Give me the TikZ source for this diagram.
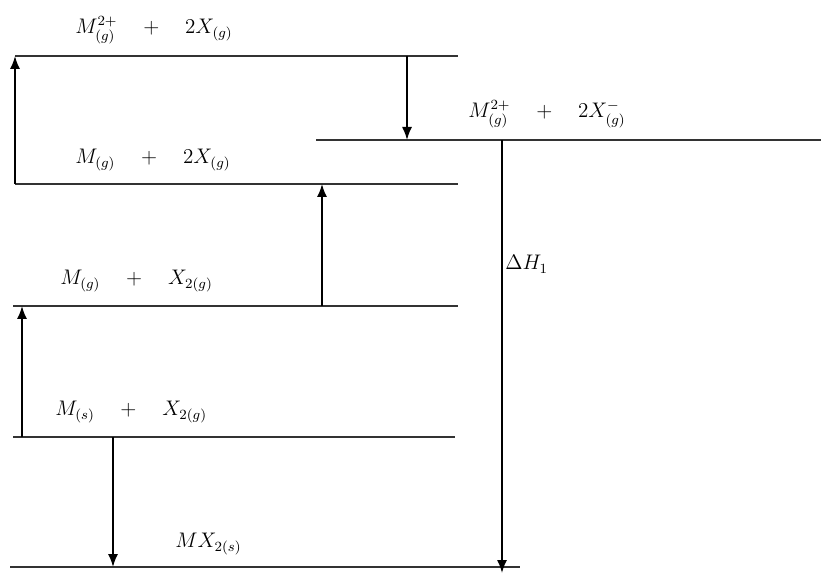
\documentclass[tikz,border=0pt]{standalone}
\usepackage{tikz}
\usetikzlibrary{arrows.meta, calc}
\usepackage{amsmath}

\begin{document}
\begin{tikzpicture}[
    x=0.02cm, y=-0.02cm,
    level/.style={draw=black!80, line width=0.8pt},
    arr/.style={-{Latex[length=2.6mm, width=2mm]}, draw=black, line width=0.9pt},
    lbl/.style={anchor=base west, font=\large, inner sep=0pt}
]
\useasboundingbox (0,0) rectangle (821,573);

% energy levels
\coordinate (top_l) at (15,56);    \coordinate (top_r) at (458,56);
\coordinate (ion_l) at (316,140);  \coordinate (ion_r) at (821,140);
\coordinate (atom_l) at (15,184);  \coordinate (atom_r) at (458,184);
\coordinate (gas_l) at (13,306);   \coordinate (gas_r) at (458,306);
\coordinate (solid_l) at (13,437); \coordinate (solid_r) at (455,437);
\coordinate (salt_l) at (10,567);  \coordinate (salt_r) at (520,567);

\draw[level] (top_l) -- (top_r);
\draw[level] (ion_l) -- (ion_r);
\draw[level] (atom_l) -- (atom_r);
\draw[level] (gas_l) -- (gas_r);
\draw[level] (solid_l) -- (solid_r);
\draw[level] (salt_l) -- (salt_r);

% labels
\node[lbl] (top_txt) at (75,34) {$M^{2+}_{(g)}\quad+\quad 2X_{(g)}$};
\node[lbl] (ion_txt) at (468,118) {$M^{2+}_{(g)}\quad+\quad 2X^{-}_{(g)}$};
\node[lbl] (atom_txt) at (75,164) {$M_{(g)}\quad+\quad 2X_{(g)}$};
\node[lbl] (gas_txt) at (60,285) {$M_{(g)}\quad+\quad X_{2(g)}$};
\node[lbl] (solid_txt) at (55,416) {$M_{(s)}\quad+\quad X_{2(g)}$};
\node[lbl] (salt_txt) at (175,548) {$MX_{2(s)}$};
\node[lbl] (dh) at (505,270) {$\Delta H_1$};

% steps
\coordinate (ion_in) at (407,140);
\coordinate (atom_in) at (322,184);
\coordinate (gas_in) at (22,306);
\coordinate (salt_in) at (113,567);
\coordinate (lat_end) at (502,573);

\draw[arr] (atom_l) -- (top_l);
\draw[arr] (top_l -| ion_in) -- (ion_in);
\draw[arr] (gas_l -| atom_in) -- (atom_in);
\draw[arr] (solid_l -| gas_in) -- (gas_in);
\draw[arr] (solid_l -| salt_in) -- (salt_in);
\draw[arr] (ion_l -| lat_end) -- (lat_end);
\end{tikzpicture}
\end{document}
